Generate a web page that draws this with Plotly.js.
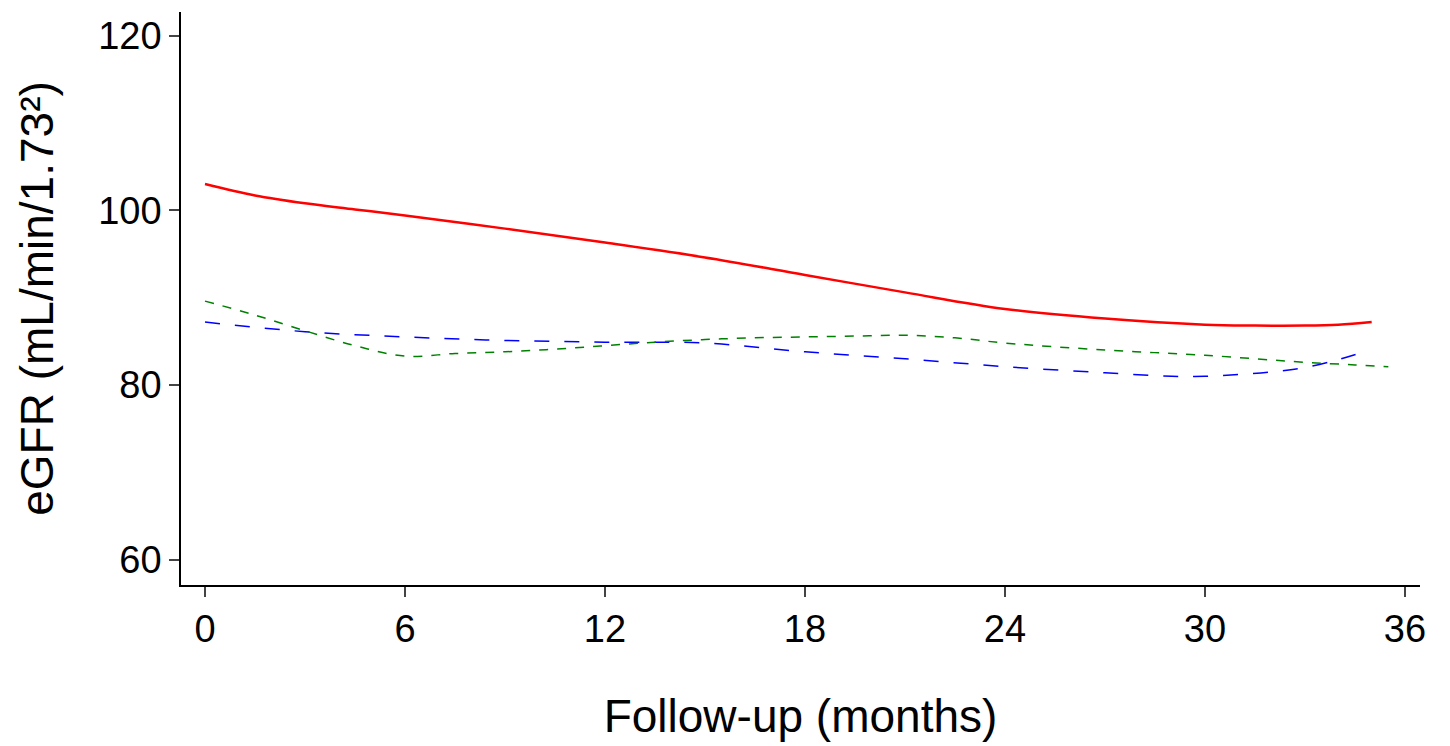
<!DOCTYPE html>
<html><head><script src="https://cdn.plot.ly/plotly-3.0.1.min.js"></script>
<style>body{margin:0;background:#fff}</style></head>
<body><div id="c" style="width:1450px;height:746px"></div>
<script>
const redX=[0,1.5,3,4.5,6,9,12,15,18,21,24,27,30,31.5,33,34,35];
const redY=[103,101.7,100.8,100.1,99.4,97.9,96.3,94.6,92.6,90.6,88.7,87.6,86.9,86.8,86.8,86.9,87.2];
const blueX=[0,3,6,9,12,15,18,21,24,27,29,30,31,32,33,34,34.7];
const blueY=[87.2,86.1,85.5,85.1,84.9,84.8,83.8,83,82.1,81.4,81,81,81.2,81.5,82,82.9,83.7];
const greenX=[0,1.5,3,4.5,6,7.5,9,10.5,12,13.5,15,16.5,18,19.5,21,22.5,24,27,30,33,34.5,35.5];
const greenY=[89.6,88,86.2,84.5,83.3,83.6,83.8,84.1,84.5,84.9,85.2,85.4,85.5,85.6,85.7,85.4,84.8,84,83.4,82.6,82.3,82.1];
const xTicks=[0,6,12,18,24,30,36];
const yTicks=[60,80,100,120];
Plotly.newPlot('c',[
 {x:redX,y:redY,mode:'lines',line:{color:'#ff0000',width:2.5,shape:'spline'}},
 {x:blueX,y:blueY,mode:'lines',line:{color:'#0000ff',width:1.5,dash:'longdash',shape:'spline'}},
 {x:greenX,y:greenY,mode:'lines',line:{color:'#008000',width:1.5,dash:'dash',shape:'spline'}}
],{
 width:1450,height:746,showlegend:false,
 margin:{l:181,r:30,t:12,b:161},
 paper_bgcolor:'#fff',plot_bgcolor:'#fff',
 font:{family:'Arial, Liberation Sans, sans-serif',color:'#000'},
 xaxis:{range:[-0.72,36.45],tickvals:xTicks,showgrid:false,zeroline:false,showline:true,linecolor:'#000',linewidth:1.5,ticks:'outside',ticklen:10,tickwidth:1.5,tickfont:{size:38},
  title:{text:'Follow-up (months)',font:{size:46},standoff:50}},
 yaxis:{range:[57.1,122.7],tickvals:yTicks,showgrid:false,zeroline:false,showline:true,linecolor:'#000',linewidth:1.5,ticks:'outside',ticklen:10,tickwidth:1.5,tickfont:{size:38},
  title:{text:'eGFR (mL/min/1.73²)',font:{size:46},standoff:30}}
},{displayModeBar:false});
</script></body></html>
